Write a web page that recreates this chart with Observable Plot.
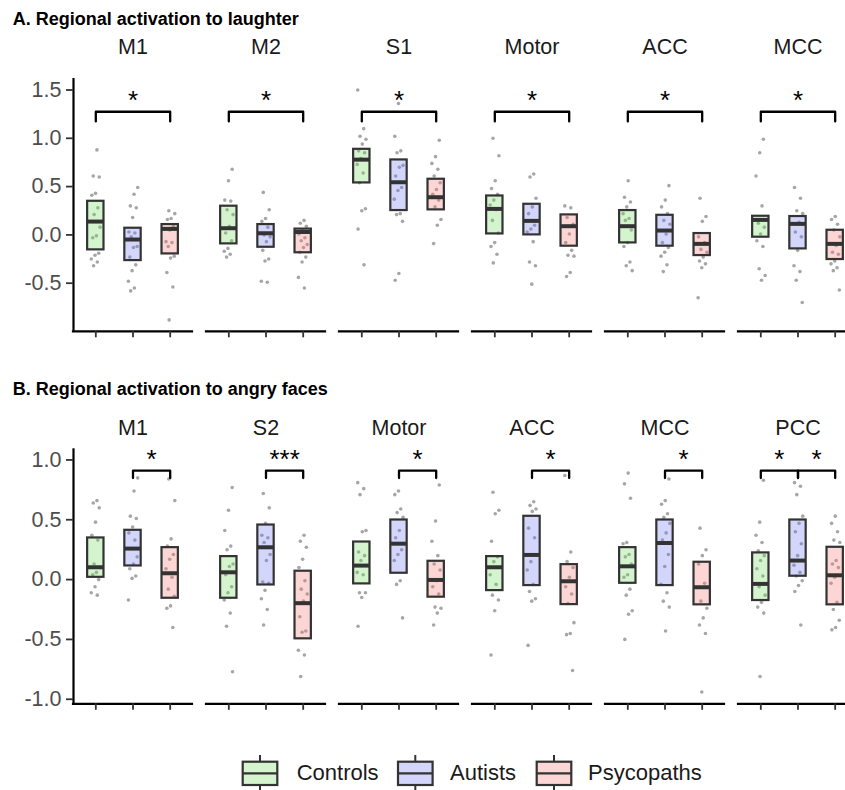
<!DOCTYPE html>
<html>
<head>
<meta charset="utf-8">
<script src="https://cdn.jsdelivr.net/npm/d3@7"></script>
<script src="https://cdn.jsdelivr.net/npm/@observablehq/plot@0.6"></script>
<style>
  html, body { margin: 0; padding: 0; overflow: hidden; background: #fff; }
  #root { position: relative; width: 845px; height: 790px; overflow: hidden; font-family: "Liberation Sans", Arial, Helvetica, sans-serif; }
  .panel { position: absolute; left: 0; width: 857px; }
  .panel svg { max-width: none !important; width: 857px; }
  #overlay { position: absolute; left: 0; top: 0; }
</style>
</head>
<body>
<div id="root">
  <div id="panelA" class="panel" style="top:30px"></div>
  <div id="panelB" class="panel" style="top:400px"></div>
  <svg id="overlay" width="845" height="790"></svg>
</div>
<script>
// ---------------- DATA ----------------
const groups = ["Controls", "Autists", "Psycopaths"];

const titleA = "A. Regional activation to laughter";
const titleB = "B. Regional activation to angry faces";

const regionsA = ["M1", "M2", "S1", "Motor", "ACC", "MCC"];
const regionsB = ["M1", "S2", "Motor", "ACC", "MCC", "PCC"];

const yTicksA = [-0.5, 0, 0.5, 1, 1.5];
const yTicksB = [-1, -0.5, 0, 0.5, 1];

// box lower edge / middle line / upper edge, per region: [Controls, Autists, Psycopaths]
const boxLoA  = [[-0.155, -0.266, -0.197], [-0.093, -0.128, -0.185], [0.538, 0.252, 0.259], [0.010, 0.000, -0.117], [-0.083, -0.117, -0.214], [-0.024, -0.145, -0.255]];
const boxMidA = [[0.138, -0.048, 0.062], [0.069, 0.017, 0.030], [0.779, 0.545, 0.390], [0.269, 0.145, 0.090], [0.090, 0.045, -0.093], [0.155, 0.114, -0.093]];
const boxHiA  = [[0.348, 0.069, 0.107], [0.297, 0.107, 0.060], [0.886, 0.776, 0.576], [0.403, 0.317, 0.207], [0.252, 0.203, 0.014], [0.193, 0.190, 0.048]];

const boxLoB  = [[0.019, 0.114, -0.156], [-0.156, -0.045, -0.495], [-0.036, 0.053, -0.147], [-0.092, -0.050, -0.209], [-0.031, -0.050, -0.211], [-0.175, 0.028, -0.211]];
const boxMidB = [[0.103, 0.259, 0.053], [0.061, 0.270, -0.197], [0.117, 0.300, -0.003], [0.103, 0.206, -0.014], [0.111, 0.306, -0.064], [-0.036, 0.159, 0.036]];
const boxHiB  = [[0.348, 0.412, 0.267], [0.192, 0.456, 0.070], [0.314, 0.498, 0.153], [0.192, 0.529, 0.125], [0.267, 0.498, 0.145], [0.223, 0.498, 0.270]];

// individual subject values, per group [Controls, Autists, Psycopaths]
const ptsA_M1 = [
  [0.88, 0.61, 0.60, 0.43, 0.41, 0.28, 0.21, 0.08, -0.01, -0.03, -0.19, -0.21, -0.25, -0.28, -0.32],
  [0.49, 0.42, 0.30, 0.28, 0.18, 0.03, 0.02, -0.02, -0.12, -0.13, -0.23, -0.31, -0.37, -0.48, -0.55, -0.58],
  [0.25, 0.22, 0.17, 0.16, 0.09, 0.05, -0.07, -0.08, -0.12, -0.22, -0.24, -0.39, -0.54, -0.88]
];
const ptsA_M2 = [
  [0.68, 0.56, 0.36, 0.35, 0.26, 0.21, 0.09, 0.02, -0.06, -0.14, -0.17, -0.20, -0.23],
  [0.44, 0.26, 0.17, 0.14, 0.08, 0.00, -0.02, -0.07, -0.16, -0.25, -0.27, -0.48, -0.49],
  [0.15, 0.12, 0.09, 0.05, 0.01, -0.03, -0.06, -0.10, -0.13, -0.18, -0.23, -0.28, -0.44, -0.55]
];
const ptsA_S1 = [
  [1.50, 1.10, 1.02, 0.99, 0.94, 0.87, 0.85, 0.79, 0.73, 0.64, 0.54, 0.27, 0.25, 0.06, -0.31],
  [1.36, 1.02, 0.87, 0.85, 0.72, 0.70, 0.61, 0.49, 0.46, 0.37, 0.22, 0.21, 0.14, -0.40, -0.47],
  [0.98, 0.81, 0.74, 0.68, 0.61, 0.54, 0.47, 0.42, 0.36, 0.29, 0.16, 0.10, -0.09]
];
const ptsA_Motor = [
  [1.00, 0.82, 0.56, 0.48, 0.42, 0.36, 0.31, 0.26, 0.15, 0.02, -0.08, -0.12, -0.20, -0.29],
  [0.63, 0.60, 0.38, 0.29, 0.22, 0.10, 0.06, 0.03, -0.07, -0.28, -0.32, -0.51],
  [0.30, 0.28, 0.18, 0.11, 0.01, -0.08, -0.16, -0.21, -0.22, -0.39, -0.43]
];
const ptsA_ACC = [
  [0.56, 0.39, 0.34, 0.29, 0.22, 0.17, 0.15, 0.05, -0.08, -0.12, -0.28, -0.32, -0.37],
  [0.51, 0.36, 0.29, 0.22, 0.15, 0.11, 0.01, -0.08, -0.13, -0.18, -0.22, -0.31, -0.38],
  [0.38, 0.19, 0.14, -0.02, -0.08, -0.15, -0.18, -0.23, -0.27, -0.30, -0.34, -0.65]
];
const ptsA_MCC = [
  [0.99, 0.85, 0.61, 0.30, 0.12, 0.08, 0.01, -0.06, -0.12, -0.35, -0.42, -0.47],
  [0.49, 0.38, 0.25, 0.22, 0.13, 0.03, -0.02, -0.16, -0.32, -0.38, -0.47, -0.70],
  [0.19, 0.16, 0.11, 0.05, -0.02, -0.11, -0.18, -0.20, -0.27, -0.30, -0.34, -0.37, -0.57]
];

const ptsB_M1 = [
  [0.66, 0.64, 0.60, 0.48, 0.37, 0.33, 0.13, 0.10, 0.06, 0.04, 0.00, -0.06, -0.11, -0.13],
  [0.85, 0.74, 0.53, 0.51, 0.44, 0.39, 0.33, 0.26, 0.19, 0.13, 0.09, 0.03, 0.01, -0.17],
  [0.84, 0.66, 0.34, 0.28, 0.21, 0.17, 0.09, 0.02, -0.08, -0.14, -0.22, -0.24, -0.40]
];
const ptsB_S2 = [
  [0.77, 0.58, 0.41, 0.28, 0.25, 0.13, 0.11, 0.04, -0.06, -0.11, -0.17, -0.28, -0.39, -0.77],
  [0.72, 0.60, 0.47, 0.37, 0.35, 0.31, 0.21, 0.16, -0.02, -0.03, -0.09, -0.16, -0.25, -0.38],
  [0.37, 0.32, 0.27, 0.17, 0.10, -0.01, -0.08, -0.12, -0.18, -0.31, -0.43, -0.44, -0.59, -0.63, -0.81]
];
const ptsB_Motor = [
  [0.81, 0.76, 0.71, 0.41, 0.40, 0.23, 0.20, 0.16, 0.06, 0.04, -0.11, -0.11, -0.15, -0.39],
  [0.74, 0.71, 0.59, 0.56, 0.52, 0.41, 0.35, 0.25, 0.21, 0.16, -0.01, -0.04, -0.32],
  [0.79, 0.49, 0.32, 0.20, 0.13, 0.08, -0.01, -0.06, -0.12, -0.23, -0.24, -0.28, -0.38]
];
const ptsB_ACC = [
  [0.73, 0.58, 0.55, 0.32, 0.19, 0.15, 0.04, -0.04, -0.13, -0.17, -0.26, -0.63],
  [0.65, 0.62, 0.59, 0.57, 0.43, 0.35, 0.15, 0.08, -0.04, -0.10, -0.16, -0.18, -0.55],
  [0.87, 0.23, 0.15, 0.10, 0.02, -0.06, -0.12, -0.20, -0.36, -0.45, -0.46, -0.76]
];
const ptsB_MCC = [
  [0.89, 0.80, 0.68, 0.31, 0.30, 0.21, 0.19, 0.13, 0.04, 0.02, -0.08, -0.13, -0.26, -0.29, -0.50],
  [0.84, 0.66, 0.63, 0.55, 0.52, 0.47, 0.39, 0.33, 0.21, 0.11, -0.04, -0.11, -0.18, -0.23, -0.43],
  [0.43, 0.25, 0.20, 0.13, -0.03, -0.18, -0.24, -0.32, -0.38, -0.45, -0.94]
];
const ptsB_PCC = [
  [0.83, 0.48, 0.37, 0.31, 0.24, 0.20, 0.16, 0.09, 0.03, -0.06, -0.13, -0.19, -0.23, -0.28, -0.81],
  [0.81, 0.78, 0.71, 0.53, 0.47, 0.40, 0.30, 0.20, 0.12, 0.06, 0.03, -0.01, -0.05, -0.10, -0.38],
  [0.53, 0.47, 0.40, 0.33, 0.31, 0.16, 0.13, 0.10, 0.02, -0.03, -0.19, -0.25, -0.34, -0.40, -0.42]
];

// significance brackets: region, from group, to group, bracket height, leg end, label
const sigA = regionsA.map(r => ({region: r, from: "Controls", to: "Psycopaths", y: 1.275, yLeg: 1.175, label: "*"}));
const sigB = [
  {region: "M1",    from: "Autists",  to: "Psycopaths", y: 0.91, yLeg: 0.849, label: "*"},
  {region: "S2",    from: "Autists",  to: "Psycopaths", y: 0.91, yLeg: 0.849, label: "***"},
  {region: "Motor", from: "Autists",  to: "Psycopaths", y: 0.91, yLeg: 0.849, label: "*"},
  {region: "ACC",   from: "Autists",  to: "Psycopaths", y: 0.91, yLeg: 0.849, label: "*"},
  {region: "MCC",   from: "Autists",  to: "Psycopaths", y: 0.91, yLeg: 0.849, label: "*"},
  {region: "PCC",   from: "Controls", to: "Autists",    y: 0.91, yLeg: 0.849, label: "*"},
  {region: "PCC",   from: "Autists",  to: "Psycopaths", y: 0.91, yLeg: 0.849, label: "*"}
];

// ---------------- STYLE ----------------
const fillColors = ["#6fdc5e", "#7073ee", "#f57373"];
const fillOpacity = 0.3;
const boxStroke = "#333333";
const FONT = '"Liberation Sans", Arial, Helvetica, sans-serif';

// ---------------- DRAW ----------------
function makePanel(cfg) {
  const {regions, lo, mid, hi, pts, sig, domain, ticks, height, marginTop, marginBottom, labelDy} = cfg;
  const gIndex = g => groups.indexOf(g) + 1;
  const boxes = [], dots = [];
  regions.forEach((r, ri) => groups.forEach((g, gi) => {
    boxes.push({region: r, gi, lo: lo[ri][gi], mid: mid[ri][gi], hi: hi[ri][gi]});
    pts[ri][gi].forEach((v, k) => dots.push({region: r, gi, ri, k, v}));
  }));
  // deterministic horizontal jitter (display offset only)
  const jitter = d => ((((d.k + 1) * 0.6180339887 + d.gi * 0.37 + d.ri * 0.23) % 1) - 0.5) * 0.26;
  const hw = 0.22;

  const bracketPath = [];
  sig.forEach((s, i) => {
    const a = gIndex(s.from), b = gIndex(s.to);
    bracketPath.push({id: i, region: s.region, x: a, y: s.yLeg});
    bracketPath.push({id: i, region: s.region, x: a, y: s.y});
    bracketPath.push({id: i, region: s.region, x: b, y: s.y});
    bracketPath.push({id: i, region: s.region, x: b, y: s.yLeg});
  });

  const marks = [
    Plot.dot(dots, {fx: "region", x: d => d.gi + 1 + jitter(d), y: "v", r: 1.8, fill: "#a6a6a6", stroke: null}),
    ...groups.map((g, gi) => Plot.rect(boxes.filter(d => d.gi === gi), {
      fx: "region", x1: d => d.gi + 1 - hw, x2: d => d.gi + 1 + hw, y1: "lo", y2: "hi",
      fill: fillColors[gi], fillOpacity, stroke: boxStroke, strokeWidth: 2.2
    })),
    Plot.ruleY(boxes, {fx: "region", x1: d => d.gi + 1 - hw, x2: d => d.gi + 1 + hw, y: "mid", stroke: boxStroke, strokeWidth: 4}),
    Plot.line(bracketPath, {fx: "region", x: "x", y: "y", z: "id", stroke: "black", strokeWidth: 2.3, curve: "linear"}),
    Plot.text(sig, {fx: "region", x: d => (gIndex(d.from) + gIndex(d.to)) / 2, y: "y", text: "label",
      lineAnchor: "bottom", dy: -3, fontSize: 26, fill: "black"}),
    Plot.text(regions, {fx: d => d, text: d => d, frameAnchor: "top", lineAnchor: "bottom", dy: labelDy, fontSize: 21.5, fill: "#1a1a1a"}),
    Plot.ruleY([domain[0]], {stroke: "black", strokeWidth: 2.2, strokeLinecap: "square"}),
    Plot.ruleX([regions[0]], {fx: d => d, x: () => 0.4, stroke: "black", strokeWidth: 2.2}),
    Plot.axisX({ticks: [1, 2, 3], tickFormat: () => "", tickSize: 6.5, stroke: "#333", strokeWidth: 1.8, label: null}),
    Plot.axisY({ticks, tickFormat: d => d.toFixed(1), tickSize: 7, tickPadding: 5, fontSize: 21.5,
      fill: "#4d4d4d", stroke: "#333", strokeWidth: 1.8, label: null})
  ];

  const chart = Plot.plot({
    width: 857, height, marginLeft: 72.7, marginRight: 0, marginTop, marginBottom,
    style: {fontFamily: FONT, background: "transparent", overflow: "visible", maxWidth: "none"},
    fx: {domain: regions, paddingInner: 0.108, paddingOuter: 0, axis: null, label: null},
    x: {type: "linear", domain: [0.4, 3.6], label: null},
    y: {domain, label: null},
    marks
  });
  chart.style.maxWidth = "none";
  chart.style.width = "857px";
  chart.style.height = height + "px";
  return chart;
}

document.getElementById("panelA").appendChild(makePanel({
  regions: regionsA, lo: boxLoA, mid: boxMidA, hi: boxHiA,
  pts: [ptsA_M1, ptsA_M2, ptsA_S1, ptsA_Motor, ptsA_ACC, ptsA_MCC],
  sig: sigA, domain: [-0.998, 1.619], ticks: yTicksA,
  height: 313, marginTop: 48, marginBottom: 12.2, labelDy: -24.7
}));

document.getElementById("panelB").appendChild(makePanel({
  regions: regionsB, lo: boxLoB, mid: boxMidB, hi: boxHiB,
  pts: [ptsB_M1, ptsB_S2, ptsB_Motor, ptsB_ACC, ptsB_MCC, ptsB_PCC],
  sig: sigB, domain: [-1.038, 1.093], ticks: yTicksB,
  height: 316, marginTop: 48.3, marginBottom: 12.7, labelDy: -14.3
}));

// titles and legend
const ov = d3.select("#overlay").style("font-family", FONT);
ov.append("text").attr("x", 12.7).attr("y", 25).attr("font-size", 18).attr("font-weight", "bold").attr("fill", "black").text(titleA);
ov.append("text").attr("x", 12.7).attr("y", 395).attr("font-size", 18).attr("font-weight", "bold").attr("fill", "black").text(titleB);

const legendKeyX = [242.7, 398, 536.7];
const legendTextX = [296.7, 450, 588];
groups.forEach((g, gi) => {
  const x0 = legendKeyX[gi], w = 34.6, cx = x0 + w / 2;
  const gk = ov.append("g");
  gk.append("line").attr("x1", cx).attr("x2", cx).attr("y1", 755).attr("y2", 795).attr("stroke", boxStroke).attr("stroke-width", 2);
  gk.append("rect").attr("x", x0).attr("y", 761.7).attr("width", w).attr("height", 23.3)
    .attr("fill", "white").attr("stroke", "none");
  gk.append("rect").attr("x", x0).attr("y", 761.7).attr("width", w).attr("height", 23.3)
    .attr("fill", fillColors[gi]).attr("fill-opacity", fillOpacity).attr("stroke", boxStroke).attr("stroke-width", 2.2);
  gk.append("line").attr("x1", x0).attr("x2", x0 + w).attr("y1", 773.3).attr("y2", 773.3).attr("stroke", boxStroke).attr("stroke-width", 2.2);
  ov.append("text").attr("x", legendTextX[gi]).attr("y", 780).attr("font-size", 22).attr("fill", "#1a1a1a").text(g);
});
</script>
</body>
</html>
